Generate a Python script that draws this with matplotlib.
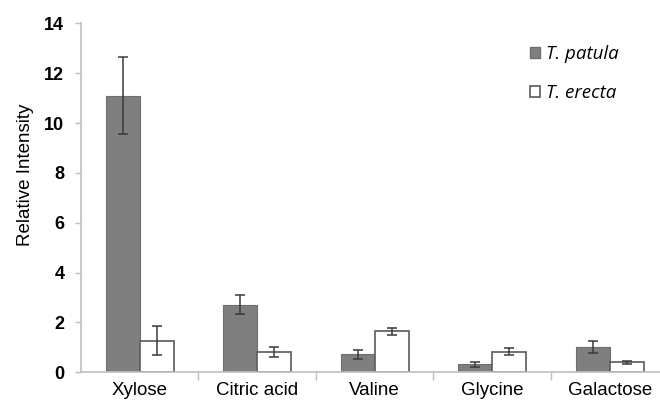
import matplotlib
matplotlib.use("Agg")
import matplotlib.pyplot as plt
import matplotlib.patches as mpatches
import numpy as np

# relative intensity of metabolites in the two Tagetes species
compounds = ["Xylose", "Citric acid", "Valine", "Glycine", "Galactose"]
patula_mean = [11.1, 2.72, 0.72, 0.33, 1.02]
patula_err = [1.55, 0.40, 0.17, 0.10, 0.23]
erecta_mean = [1.27, 0.82, 1.64, 0.82, 0.40]
erecta_err = [0.57, 0.20, 0.15, 0.14, 0.07]

BAR_WIDTH = 0.29
PATULA_COLOR = "#7f7f7f"
ERECTA_COLOR = "white"
AXIS_COLOR = "#bfbfbf"
ERR_COLOR = "#3a3a3a"

plt.rcParams["font.family"] = ["Liberation Sans", "DejaVu Sans"]

fig = plt.figure(figsize=(6.6, 4.05), dpi=100)
ax = fig.add_axes([0.1227, 0.0807, 0.890, 0.8617])

x = np.arange(len(compounds))
err_kw = dict(ecolor=ERR_COLOR, elinewidth=1.1, capsize=3.5, capthick=1.1)
ax.bar(x - BAR_WIDTH / 2, patula_mean, BAR_WIDTH, yerr=patula_err,
       color=PATULA_COLOR, edgecolor="#6e6e6e", linewidth=0.8, error_kw=err_kw)
ax.bar(x + BAR_WIDTH / 2, erecta_mean, BAR_WIDTH, yerr=erecta_err,
       color=ERECTA_COLOR, edgecolor="#5a5a5a", linewidth=1.2, error_kw=err_kw)

ax.set_xlim(-0.5, len(compounds) - 0.5)
ax.set_ylim(0, 14)
ax.set_yticks(np.arange(0, 15, 2))
ax.set_yticklabels([str(v) for v in range(0, 15, 2)], fontweight="bold", fontsize=13)

# category labels centred, tick marks on the category boundaries
ax.set_xticks(x)
ax.set_xticklabels(compounds, fontsize=13.5)
ax.set_xticks(np.arange(0.5, len(compounds) - 0.5), minor=True)
ax.tick_params(axis="x", which="major", length=0, pad=7)
ax.tick_params(axis="x", which="minor", length=6, color=AXIS_COLOR, width=1)
ax.tick_params(axis="y", length=4, color=AXIS_COLOR, width=1, pad=8)

for side in ("top", "right"):
    ax.spines[side].set_visible(False)
for side in ("left", "bottom"):
    ax.spines[side].set_color(AXIS_COLOR)
    ax.spines[side].set_linewidth(1.2)

ax.set_ylabel("Relative Intensity", fontsize=13.5)
ax.yaxis.set_label_coords(-0.08, 0.565)

handles = [
    mpatches.Patch(facecolor=PATULA_COLOR, edgecolor="#6e6e6e", label="T. patula"),
    mpatches.Patch(facecolor=ERECTA_COLOR, edgecolor="#5a5a5a", linewidth=1.2, label="T. erecta"),
]
leg = fig.legend(handles=handles, loc="upper left", bbox_to_anchor=(0.803, 0.888),
                 frameon=False, borderpad=0, borderaxespad=0, handlelength=0.52,
                 handleheight=0.52, handletextpad=0.35, labelspacing=1.12,
                 prop=dict(family=["Open Sans", "DejaVu Sans"], style="italic", size=13.5))

fig.savefig("out.png", dpi=100)
